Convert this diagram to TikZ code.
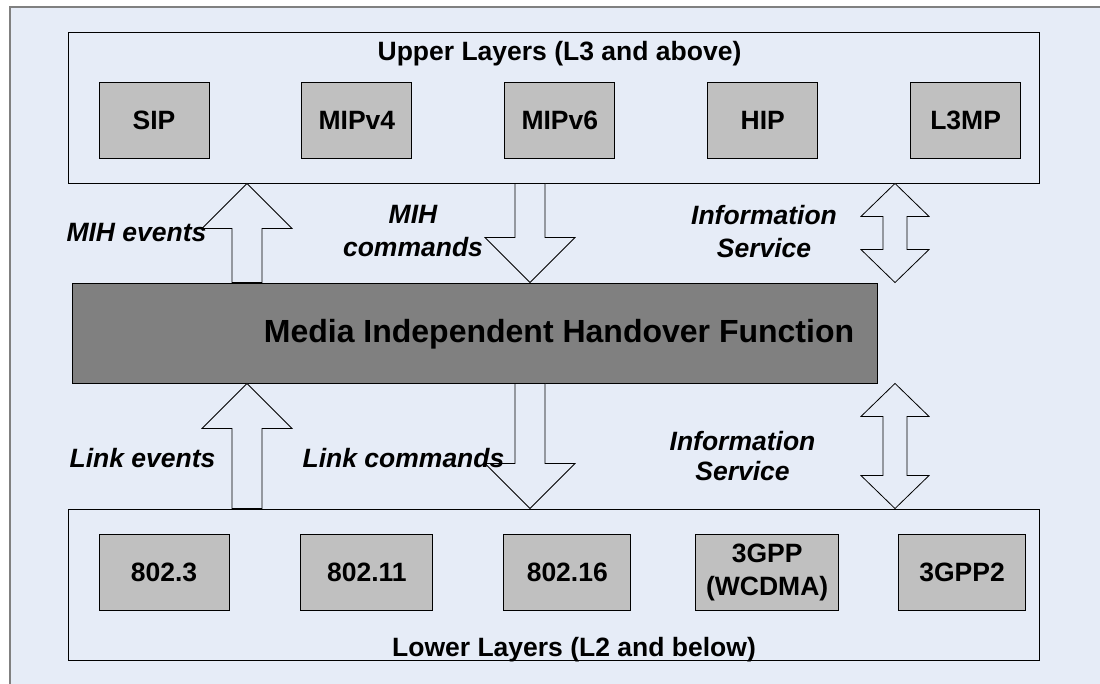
\documentclass[tikz,border=0pt]{standalone}
\usepackage{fontspec}
\setmainfont{Liberation Sans}
\usetikzlibrary{positioning, calc}

\definecolor{bgblue}{RGB}{230,236,247}
\definecolor{boxgray}{RGB}{192,192,192}
\definecolor{mihgray}{RGB}{128,128,128}

\newcommand{\boxfont}{\fontsize{26.5}{33}\selectfont\bfseries}
\newcommand{\lblfont}{\fontsize{26.5}{33}\selectfont\bfseries\itshape}
\newcommand{\mihfont}{\fontsize{32}{38}\selectfont\bfseries}

% block arrows between two layer nodes, at the x of a coordinate
\newcommand{\eventarrow}[3]{%
  \draw[blockarrow] let \p1=(#2.north -| #1), \p2=(#3.south -| #1) in
    (\x1-15pt,\y1) -- (\x1-15pt,\y2-45pt) -- (\x1-45pt,\y2-45pt) -- (\x1,\y2)
    -- (\x1+45pt,\y2-45pt) -- (\x1+15pt,\y2-45pt) -- (\x1+15pt,\y1) -- cycle;}
\newcommand{\commandarrow}[3]{%
  \draw[blockarrow] let \p1=(#2.south -| #1), \p2=(#3.north -| #1) in
    (\x1-15pt,\y1) -- (\x1-15pt,\y2+45pt) -- (\x1-45pt,\y2+45pt) -- (\x1,\y2)
    -- (\x1+45pt,\y2+45pt) -- (\x1+15pt,\y2+45pt) -- (\x1+15pt,\y1) -- cycle;}
\newcommand{\servicearrow}[3]{%
  \draw[blockarrow] let \p1=(#2.south -| #1), \p2=(#3.north -| #1) in
    (\x1-12pt,\y1-33pt) -- (\x1-34pt,\y1-33pt) -- (\x1,\y1) -- (\x1+34pt,\y1-33pt)
    -- (\x1+12pt,\y1-33pt) -- (\x1+12pt,\y2+33pt) -- (\x1+34pt,\y2+33pt) -- (\x1,\y2)
    -- (\x1-34pt,\y2+33pt) -- (\x1-12pt,\y2+33pt) -- cycle;}

\begin{document}
\begin{tikzpicture}[x=1pt, y=-1pt,
    layerbox/.style={rectangle, draw=black, line width=0.9pt, fill=bgblue,
      minimum width=971pt, minimum height=151pt},
    protobox/.style={rectangle, draw=black, line width=0.9pt, fill=boxgray,
      minimum height=76pt, inner sep=0pt, align=center, font=\boxfont},
    mihbox/.style={rectangle, draw=black, line width=0.9pt, fill=mihgray,
      minimum width=805pt, minimum height=100pt},
    blockarrow/.style={draw=black, line width=0.8pt, fill=bgblue, line join=miter},
    lbl/.style={inner sep=0pt, align=center, font=\lblfont}]

    \useasboundingbox (0,0) rectangle (1100,684);
    % frame
    \fill[bgblue] (10,7) rectangle (1100,684);
    \draw[mihgray, line width=1.5pt] (10,684) -- (10,7) -- (1100,7);

    % upper layers
    \node[layerbox] (upper) at (553.5,107.5) {};
    \node[font=\boxfont, anchor=base] (uppertitle) at (559.5,61) {Upper Layers (L3 and above)};
    \node[protobox, minimum width=110pt] (sip) at (154,120) {SIP};
    \node[protobox, minimum width=110pt, right=92pt of sip] (mipv4) {MIPv4};
    \node[protobox, minimum width=110pt, right=92pt of mipv4] (mipv6) {MIPv6};
    \node[protobox, minimum width=110pt, right=92pt of mipv6] (hip) {HIP};
    \node[protobox, minimum width=110pt, right=92pt of hip] (l3mp) {L3MP};

    % MIH function
    \node[mihbox] (mih) at (474.5,333) {};
    \node[font=\mihfont, anchor=base] (mihtitle) at (559,343) {Media Independent Handover Function};

    % lower layers
    \node[layerbox] (lower) at (553.5,584.5) {};
    \node[font=\boxfont, anchor=base] (lowertitle) at (574,656) {Lower Layers (L2 and below)};
    \node[protobox, minimum width=130pt] (eth) at (164,572) {802.3};
    \node[protobox, minimum width=132pt, right=71pt of eth] (wifi) {802.11};
    \node[protobox, minimum width=127pt, right=70pt of wifi] (wimax) {802.16};
    \node[protobox, minimum width=143pt, right=64pt of wimax] (gpp) {3GPP\\(WCDMA)};
    \node[protobox, minimum width=127pt, right=59pt of gpp] (gpptwo) {3GPP2};

    % arrows
    \coordinate (evx) at (247,0);
    \coordinate (cmdx) at (530,0);
    \coordinate (isx) at (895,0);
    \eventarrow{evx}{mih}{upper}
    \commandarrow{cmdx}{upper}{mih}
    \servicearrow{isx}{upper}{mih}
    \eventarrow{evx}{lower}{mih}
    \commandarrow{cmdx}{mih}{lower}
    \servicearrow{isx}{mih}{lower}

    \node[lbl, anchor=base] (mihev) at (136.5,242) {MIH events};
    \node[lbl] (mihcmd) at (413,231) {MIH\\commands};
    \node[lbl] (isup) at (764,232) {Information\\Service};
    \node[lbl, anchor=base] (linkev) at (142.5,467) {Link events};
    \node[lbl, anchor=base] (linkcmd) at (403.5,467) {Link commands};
    \node[lbl] (islow) at (742.5,456) {Information\\[-3pt]Service};
\end{tikzpicture}
\end{document}
